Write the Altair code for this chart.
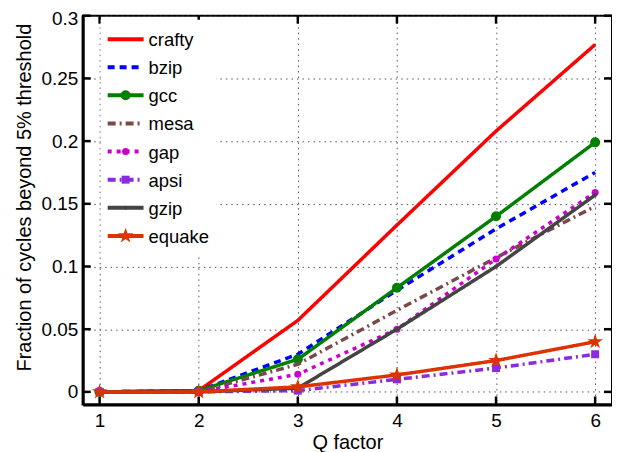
import altair as alt
import pandas as pd

# ---------------- data ----------------
q_factor = [1, 2, 3, 4, 5, 6]
series_names = ["crafty", "bzip", "gcc", "mesa", "gap", "apsi", "gzip", "equake"]
crafty = [0.0, 0.001, 0.057, 0.133, 0.208, 0.277]
bzip = [0.0, 0.001, 0.030, 0.081, 0.130, 0.175]
gcc = [0.0, 0.001, 0.026, 0.083, 0.140, 0.199]
mesa = [0.0, 0.0, 0.022, 0.065, 0.107, 0.148]
gap = [0.0, 0.0, 0.014, 0.050, 0.106, 0.159]
apsi = [0.0, 0.0, 0.001, 0.010, 0.019, 0.030]
gzip = [0.0, 0.0, 0.003, 0.050, 0.100, 0.157]
equake = [0.0, 0.0, 0.004, 0.0135, 0.025, 0.040]
series_values = [crafty, bzip, gcc, mesa, gap, apsi, gzip, equake]

x_ticks = [1, 2, 3, 4, 5, 6]
y_ticks = [0, 0.05, 0.1, 0.15, 0.2, 0.25, 0.3]

# ---------------- styles ----------------
STAR = ("M0,-1L0.2245,-0.309L0.951,-0.309L0.363,0.118L0.588,0.809L0,0.382"
        "L-0.588,0.809L-0.363,0.118L-0.951,-0.309L-0.2245,-0.309Z")
style = {
    "crafty": dict(color="#ff0000", dash=[1, 0], shape=None, size=0),
    "bzip": dict(color="#0000ff", dash=[7, 5], shape=None, size=0),
    "gcc": dict(color="#008000", dash=[1, 0], shape="circle", size=100),
    "mesa": dict(color="#7a4a4a", dash=[8, 4, 2, 4], shape=None, size=0),
    "gap": dict(color="#cc00cc", dash=[4, 5], shape="circle", size=50),
    "apsi": dict(color="#8a2be2", dash=[8, 4, 2, 4], shape="square", size=64),
    "gzip": dict(color="#444444", dash=[1, 0], shape="circle", size=16),
    "equake": dict(color="#dd3300", dash=[1, 0], shape=STAR, size=270),
}

W, H = 531, 390
FONT = "Liberation Sans"
LW = 3.5

xs = alt.Scale(domain=[0.83, 6.17], nice=False, zero=False)
ys = alt.Scale(domain=[-0.01, 0.3], nice=False, zero=False)

x_axis = alt.Axis(values=x_ticks, title="Q factor", format="d", grid=True,
                  gridDash=[1.5, 4], gridColor="#555555", gridWidth=1,
                  ticks=False, domain=True, domainColor="black", domainWidth=3,
                  labelFontSize=19, titleFontSize=20, labelPadding=7,
                  titlePadding=2)
y_axis = alt.Axis(values=y_ticks, title="Fraction of cycles  beyond 5% threshold",
                  format="~g", grid=True, gridDash=[1.5, 4], gridColor="#555555",
                  gridWidth=1, ticks=False, domain=True, domainColor="black",
                  domainWidth=3, labelFontSize=19, titleFontSize=20,
                  labelPadding=5, titleX=-48, titleY=182, titleBaseline="bottom",
                  titleAngle=270,
                  labelOffset={"condition": {"test": "datum.value >= 0.3", "value": 3},
                               "value": 0})

X = alt.X("x:Q", scale=xs, axis=x_axis)
Y = alt.Y("y:Q", scale=ys, axis=y_axis)

layers = []

# inward tick marks on all four sides
ytick_df = pd.DataFrame({"y": y_ticks})
xtick_df = pd.DataFrame({"x": x_ticks})
tick_style = dict(color="black", strokeWidth=2.5)
layers.append(alt.Chart(ytick_df).mark_rule(**tick_style).encode(
    y=Y, x=alt.value(0), x2=alt.value(8)))
layers.append(alt.Chart(ytick_df).mark_rule(**tick_style).encode(
    y=Y, x=alt.value(W - 8), x2=alt.value(W)))
layers.append(alt.Chart(xtick_df).mark_rule(**tick_style).encode(
    x=X, y=alt.value(H), y2=alt.value(H - 8)))
layers.append(alt.Chart(xtick_df).mark_rule(**tick_style).encode(
    x=X, y=alt.value(0), y2=alt.value(8)))

# data series
for name, vals in zip(series_names, series_values):
    s = style[name]
    df = pd.DataFrame({"x": q_factor, "y": vals, "series": name})
    layers.append(alt.Chart(df).mark_line(
        color=s["color"], strokeWidth=LW, strokeDash=s["dash"]).encode(x=X, y=Y))
    if s["shape"]:
        layers.append(alt.Chart(df).mark_point(
            shape=s["shape"], size=s["size"], filled=True, opacity=1,
            color=s["color"]).encode(x=X, y=Y))

# legend box (inside the plot, top-left)
layers.append(alt.Chart(pd.DataFrame({"a": [0]})).mark_rect(
    fill="white").encode(
    x=alt.value(18), x2=alt.value(134), y=alt.value(4), y2=alt.value(239)))

row0, row_step = 23.5, 28.2
for i, name in enumerate(series_names):
    s = style[name]
    yy = row0 + row_step * i
    one = pd.DataFrame({"series": [name]})
    layers.append(alt.Chart(one).mark_rule(
        color=s["color"], strokeWidth=LW + 0.5, strokeDash=s["dash"]).encode(
        x=alt.value(25), x2=alt.value(61), y=alt.value(yy)))
    if s["shape"]:
        layers.append(alt.Chart(one).mark_point(
            shape=s["shape"], size=s["size"], filled=True, opacity=1,
            color=s["color"]).encode(x=alt.value(43), y=alt.value(yy)))
    layers.append(alt.Chart(one).mark_text(
        align="left", baseline="middle", font=FONT, fontSize=18.5,
        color="black").encode(x=alt.value(66), y=alt.value(yy + 1),
                              text=alt.Text("series:N")))

chart = alt.layer(*layers).properties(
    width=W, height=H,
    padding={"left": 75, "top": 7, "right": 0, "bottom": 49},
    autosize=alt.AutoSizeParams(type="none"),
).configure_view(
    stroke="black", strokeWidth=2
).configure_axis(
    labelFont=FONT, titleFont=FONT, labelColor="black", titleColor="black",
    titleFontWeight="normal"
)

chart.save("out.html", embed_options={"renderer": "svg", "actions": False})
